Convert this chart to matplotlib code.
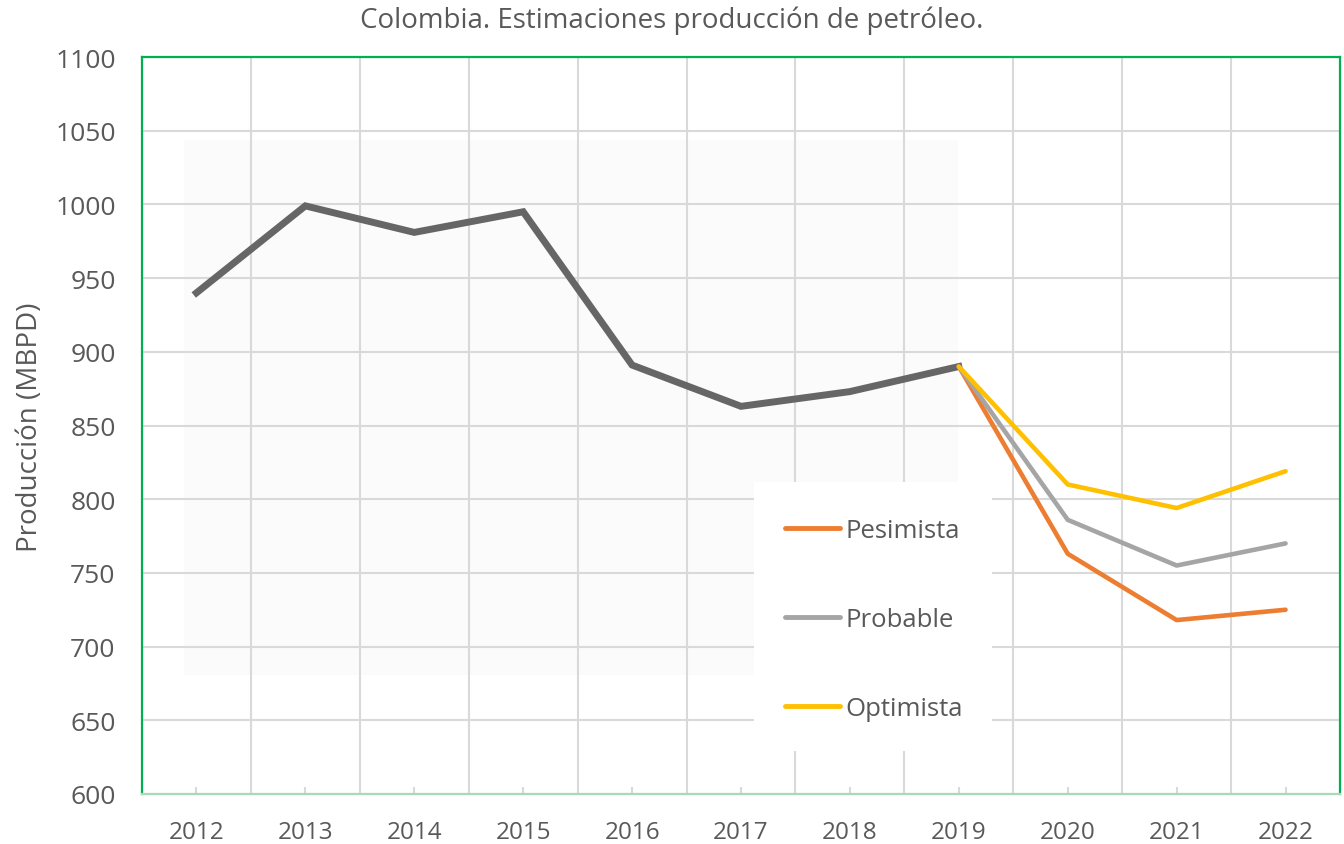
import matplotlib
matplotlib.use("Agg")
import matplotlib.pyplot as plt
from matplotlib.patches import Rectangle

# ---- data ----
years = ['2012', '2013', '2014', '2015', '2016', '2017', '2018', '2019', '2020', '2021', '2022']
hist_years = years[:8]
historico = [940, 999, 981, 995, 891, 863, 873, 890]
scen_years = years[7:]
pesimista = [890, 763, 718, 725]
probable = [890, 786, 755, 770]
optimista = [890, 810, 794, 819]
yticks = [600, 650, 700, 750, 800, 850, 900, 950, 1000, 1050, 1100]

title = 'Colombia. Estimaciones producción de petróleo.'
ylabel = 'Producción (MBPD)'

FONT = 'Open Sans'
TXT = '#595959'
GRID = '#D9D9D9'

fig = plt.figure(figsize=(13.44, 8.45), dpi=100)
ax = fig.add_axes([142/1344, 1 - 795/845, (1340 - 142)/1344, (795 - 58)/845])

xpos = {y: i for i, y in enumerate(years)}
ax.set_xlim(-0.5, len(years) - 0.5)
ax.set_ylim(yticks[0], yticks[-1])

# faint background image area behind historical series
ax.add_patch(Rectangle((-0.11, 681), 7.1, 363, facecolor='#FBFBFB', edgecolor='none', zorder=0))

# grid
ax.set_yticks(yticks)
ax.set_xticks(range(len(years)))
ax.set_xticks([i + 0.5 for i in range(len(years) - 1)], minor=True)
ax.grid(axis='y', which='major', color=GRID, linewidth=1.5, zorder=1)
ax.grid(axis='x', which='minor', color=GRID, linewidth=1.5, zorder=1)
ax.set_axisbelow(True)

ax.set_xticklabels(years, fontfamily=FONT, fontsize=17.5, color=TXT)
ax.set_yticklabels([str(v) for v in yticks], fontfamily=FONT, fontsize=19, color=TXT)
ax.tick_params(axis='x', which='major', direction='in', length=5, width=1.5, color=GRID, pad=19)
ax.tick_params(axis='x', which='minor', length=0)
ax.tick_params(axis='y', length=0, pad=19)

for s in ['left', 'top', 'right']:
    ax.spines[s].set_color('#00B050')
    ax.spines[s].set_linewidth(1.6)
ax.spines['bottom'].set_color('#A9D9BA')
ax.spines['bottom'].set_linewidth(1.6)

# historical series
ax.plot([xpos[y] for y in hist_years], historico, color='#666666', linewidth=5,
        solid_joinstyle='miter', zorder=3)

# scenarios
sx = [xpos[y] for y in scen_years]
ax.plot(sx, pesimista, color='#ED7D31', linewidth=3.3, solid_capstyle='round', zorder=4, label='Pesimista')
ax.plot(sx, probable, color='#A5A5A5', linewidth=3.3, solid_capstyle='round', zorder=4, label='Probable')
ax.plot(sx, optimista, color='#FFC000', linewidth=3.3, solid_capstyle='round', zorder=4, label='Optimista')

# legend box
ax.add_patch(Rectangle(((754 - 142)/1198, 1 - (752 - 58)/737), (992 - 754)/1198, (752 - 483)/737,
                       transform=ax.transAxes, facecolor='white', edgecolor='none', zorder=2))
leg = ax.legend(loc='upper left', bbox_to_anchor=((785 - 142)/1198, 1 - (519 - 58)/737),
                frameon=False, borderpad=0, borderaxespad=0, handlelength=2.15,
                handletextpad=0.2, labelspacing=2.5,
                prop={'family': FONT, 'size': 18.5})
for t in leg.get_texts():
    t.set_color(TXT)
for h in leg.get_lines():
    h.set_linewidth(3.5)
    h.set_solid_capstyle('round')

fig.text(0.5, 1 - 21/845, title, ha='center', va='center', fontfamily=FONT, fontsize=20, color=TXT)
fig.text(30/1344, 1 - 427/845, ylabel, ha='center', va='center', rotation=90,
         fontfamily=FONT, fontsize=20, color=TXT)

fig.savefig('out.png', dpi=100)
